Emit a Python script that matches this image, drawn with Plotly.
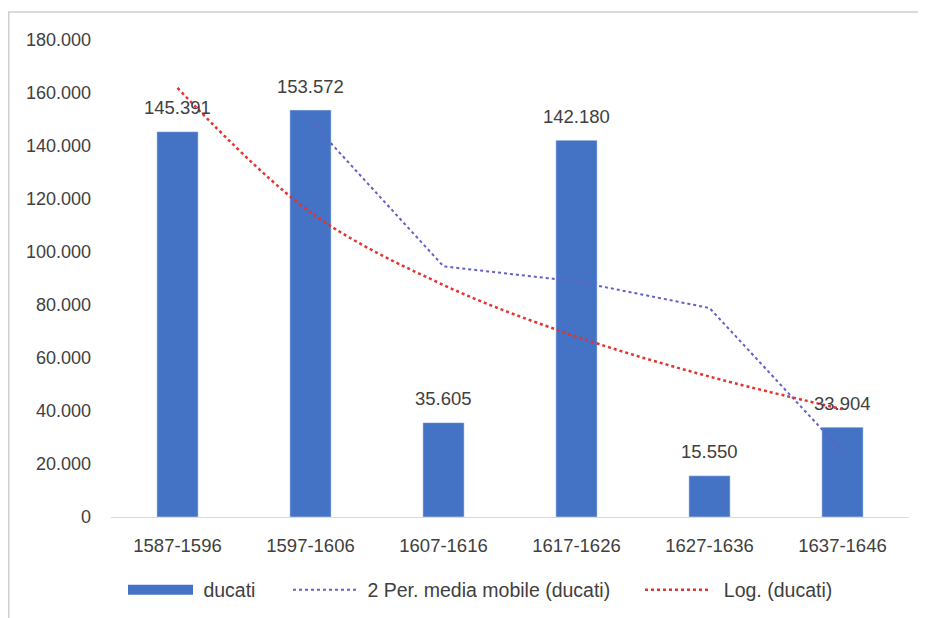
import plotly.graph_objects as go

categories = ["1587-1596", "1597-1606", "1607-1616", "1617-1626", "1627-1636", "1637-1646"]
ducati = [145391, 153572, 35605, 142180, 15550, 33904]
moving_avg = [None, 149481.5, 94588.5, 88892.5, 78865, 24727]
log_trend = [161900, 114990, 87560, 68090, 52990, 40660]
y_ticks = [0, 20000, 40000, 60000, 80000, 100000, 120000, 140000, 160000, 180000]

FONT = "Liberation Sans"
TXT = "#404040"
BAR = "#4472C4"
NB = "\u00a0"

L, R, T, B = 103, 25, 32, 109
W, H = 926, 618
pw, ph = W - L - R, H - T - B

def px_x(v):
    return (v - L) / pw

fig = go.Figure()
fig.add_trace(go.Bar(
    x=categories, y=ducati, name="ducati", showlegend=False,
    marker=dict(color=BAR), width=0.31,
))
# legend entry for bars (wide swatch as in the original)
fig.add_trace(go.Scatter(
    x=[None], y=[None], name=NB + "ducati", mode="lines",
    line=dict(color=BAR, width=11), legend="legend",
))
fig.add_trace(go.Scatter(
    x=categories, y=moving_avg, name=NB + "2 Per. media mobile (ducati)",
    mode="lines", line=dict(color="#6360C8", width=2, dash="dot"),
    connectgaps=False, legend="legend2",
))
fig.add_trace(go.Scatter(
    x=categories, y=log_trend, name=NB + NB + "Log. (ducati)",
    mode="lines", line=dict(color="#E5332F", width=2.5, dash="dot", shape="spline"),
    legend="legend3",
))

for c, v in zip(categories, ducati):
    fig.add_annotation(x=c, y=v, text=f"{v:,}".replace(",", "."), showarrow=False,
                       yanchor="middle", yshift=24,
                       font=dict(family=FONT, size=18.5, color=TXT))

leg_y = (H - B - 582) / ph
leg_common = dict(orientation="h", yanchor="middle", y=leg_y, xanchor="left",
                  font=dict(family=FONT, size=19.5, color=TXT), bgcolor="rgba(0,0,0,0)")

fig.update_layout(
    width=W, height=H,
    margin=dict(l=L, r=R, t=T, b=B),
    paper_bgcolor="white", plot_bgcolor="white",
    separators=",.",
    font=dict(family=FONT, size=18, color=TXT),
    bargap=0.69,
    showlegend=True,
    legend=dict(x=px_x(115), itemwidth=65, **leg_common),
    legend2=dict(x=px_x(280), itemwidth=64, **leg_common),
    legend3=dict(x=px_x(632), itemwidth=63, **leg_common),
    shapes=[dict(type="rect", xref="paper", yref="paper",
                 x0=px_x(0.75), x1=px_x(940),
                 y0=-(640 - (H - B)) / ph, y1=1 + (T - 4) / ph,
                 line=dict(color="#D0D0D0", width=1.5), layer="below")],
)
fig.update_xaxes(
    showgrid=False, showline=True, linecolor="#D9D9D9", linewidth=1,
    ticks="", tickfont=dict(family=FONT, size=18.5, color=TXT), ticklabelstandoff=12,
)
fig.update_yaxes(
    range=[0, 180000], tickvals=y_ticks, tickformat=",",
    showgrid=False, zeroline=False, showline=False, ticks="",
    tickfont=dict(family=FONT, size=18, color=TXT), ticklabelstandoff=19,
)

fig.write_html("out.html")
